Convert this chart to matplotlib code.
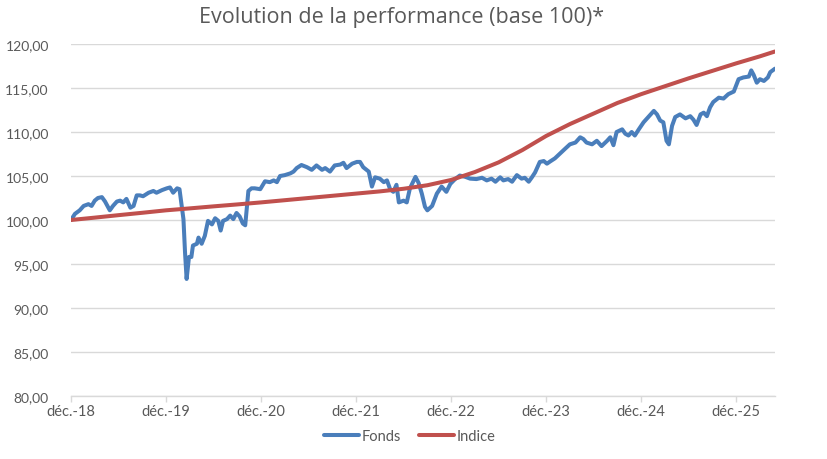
import matplotlib
matplotlib.use("Agg")
import matplotlib.pyplot as plt
from matplotlib.ticker import FixedLocator, FuncFormatter

plt.rcParams['font.family'] = ['Lato', 'DejaVu Sans']

# Months elapsed since déc. 2018, and the fund's value (base 100)
fonds_mois = [
    0.0, 0.5, 1.1, 1.6, 2.2, 2.6, 3.0, 3.4, 3.9, 4.3, 4.9, 5.3, 5.8, 6.2, 6.6,
    7.0, 7.5, 7.9, 8.3, 8.7, 9.1, 9.8, 10.4, 10.8, 11.5, 12.1, 12.5, 12.9, 13.4,
    13.7, 14.2, 14.4, 14.6, 14.9, 15.2, 15.4, 15.9, 16.1, 16.5, 16.9, 17.3, 17.8,
    18.2, 18.6, 18.9, 19.2, 19.7, 20.1, 20.5, 20.9, 21.3, 21.7, 22.0, 22.4, 22.8,
    23.2, 23.9, 24.5, 25.1, 25.6, 26.0, 26.4, 27.0, 27.7, 28.1, 28.5, 29.1, 29.8,
    30.4, 31.0, 31.7, 32.1, 32.7, 33.3, 34.0, 34.4, 34.8, 35.5, 36.1, 36.5, 36.9,
    37.6, 38.0, 38.4, 39.0, 39.5, 39.9, 40.3, 40.7, 41.1, 41.4, 42.0, 42.4, 42.8,
    43.5, 43.9, 44.3, 44.7, 45.0, 45.6, 46.2, 46.8, 47.4, 47.9, 48.5, 49.1, 49.8,
    50.4, 51.2, 51.9, 52.5, 53.1, 53.6, 54.2, 54.6, 55.2, 55.7, 56.3, 56.9, 57.3,
    57.8, 58.2, 58.6, 59.2, 59.7, 60.1, 60.5, 61.1, 61.8, 62.4, 63.0, 63.7, 64.3,
    64.7, 65.1, 65.8, 66.4, 67.0, 67.7, 68.1, 68.5, 68.9, 69.6, 70.0, 70.4, 70.8,
    71.2, 71.7, 72.3, 72.9, 73.6, 74.0, 74.4, 74.8, 75.2, 75.5, 75.9, 76.3, 76.9,
    77.6, 78.2, 78.6, 79.0, 79.5, 79.9, 80.3, 80.7, 81.1, 81.8, 82.4, 83.0, 83.7,
    84.3, 84.9, 85.6, 85.9, 86.2, 86.6, 87.0, 87.5, 88.0, 88.3, 88.9,
]
fonds = [
    100.0, 100.7, 101.1, 101.6, 101.8, 101.6, 102.2, 102.5, 102.6, 102.1, 101.1,
    101.6, 102.1, 102.2, 102.0, 102.4, 101.4, 101.6, 102.8, 102.8, 102.7, 103.1,
    103.3, 103.1, 103.4, 103.6, 103.7, 103.1, 103.6, 103.5, 100.1, 96.3, 93.3,
    95.8, 95.8, 97.1, 97.3, 98.0, 97.3, 98.2, 99.9, 99.5, 100.2, 99.9, 98.8, 99.9,
    100.1, 100.5, 100.1, 100.8, 100.4, 99.6, 99.4, 103.3, 103.6, 103.6, 103.5,
    104.4, 104.3, 104.5, 104.3, 105.0, 105.1, 105.3, 105.5, 105.9, 106.25, 106.0,
    105.7, 106.2, 105.7, 105.9, 105.5, 106.2, 106.3, 106.5, 105.9, 106.4, 106.6,
    106.6, 106.0, 105.5, 103.8, 104.85, 104.7, 104.3, 104.5, 103.5, 103.2, 104.0,
    102.0, 102.2, 102.0, 103.6, 104.9, 104.2, 103.0, 101.5, 101.1, 101.6, 103.0,
    103.8, 103.2, 104.1, 104.65, 105.05, 104.9, 104.7, 104.65, 104.8, 104.5,
    104.7, 104.35, 104.85, 104.5, 104.65, 104.35, 105.1, 104.7, 104.8, 104.35,
    104.85, 105.4, 106.6, 106.7, 106.4, 106.65, 107.0, 107.6, 108.1, 108.6, 108.8,
    109.4, 109.2, 108.8, 108.6, 109.0, 108.4, 109.0, 109.4, 108.5, 110.0, 110.3,
    109.8, 109.6, 110.0, 109.6, 110.3, 111.1, 111.7, 112.4, 112.0, 111.3, 111.1,
    109.0, 108.6, 110.7, 111.7, 112.0, 111.55, 111.8, 111.4, 110.8, 112.0, 112.2,
    111.8, 112.8, 113.4, 113.9, 113.8, 114.3, 114.6, 116.0, 116.2, 116.3, 117.0,
    116.5, 115.6, 116.0, 115.8, 116.2, 116.8, 117.2,
]

# Benchmark index, quarterly
indice_mois = [0, 3, 6, 9, 12, 15, 18, 21, 24, 27, 30, 33, 36, 39, 42, 45, 48,
               51, 54, 57, 60, 63, 66, 69, 72, 75, 78, 81, 84, 87, 88.9]
indice = [100.0, 100.27, 100.55, 100.82, 101.1, 101.32, 101.55, 101.77, 102.0,
          102.25, 102.5, 102.75, 103.0, 103.25, 103.55, 103.95, 104.55, 105.45,
          106.55, 107.95, 109.55, 110.9, 112.1, 113.3, 114.3, 115.2, 116.1,
          116.95, 117.8, 118.6, 119.15]

x_ticks = [0, 12, 24, 36, 48, 60, 72, 84]
x_labels = ["déc.-18", "déc.-19", "déc.-20", "déc.-21", "déc.-22", "déc.-23",
            "déc.-24", "déc.-25"]
y_ticks = [80, 85, 90, 95, 100, 105, 110, 115, 120]

BLUE = "#4A7EBB"
RED = "#C0504D"
GRID = "#D9D9D9"
TEXT = "#595959"

fig = plt.figure(figsize=(8.28, 4.60), dpi=100)
ax = fig.add_axes([71 / 828, 1 - 397 / 460, (775 - 71) / 828, (397 - 45) / 460])

ax.plot(fonds_mois, fonds, color=BLUE, lw=2.9, solid_joinstyle="round",
        solid_capstyle="round", label="Fonds", zorder=3)
ax.plot(indice_mois, indice, color=RED, lw=2.9, solid_joinstyle="round",
        solid_capstyle="round", label="Indice", zorder=4)

ax.set_xlim(0, 88.9)
ax.set_ylim(80, 120)
ax.xaxis.set_major_locator(FixedLocator(x_ticks))
ax.set_xticklabels(x_labels)
ax.yaxis.set_major_locator(FixedLocator(y_ticks))
ax.yaxis.set_major_formatter(FuncFormatter(lambda v, p: f"{v:.2f}".replace(".", ",")))

ax.grid(axis="y", color=GRID, lw=1.0)
ax.set_axisbelow(True)
for s in ("left", "right", "top"):
    ax.spines[s].set_visible(False)
ax.spines["bottom"].set_color(GRID)
ax.spines["bottom"].set_linewidth(1.0)
ax.tick_params(axis="x", colors=GRID, length=4, width=1.0, labelcolor=TEXT,
               labelsize=10.5, pad=2)
ax.tick_params(axis="y", length=0, labelcolor=TEXT, labelsize=10, pad=16)

fig.text(402 / 828, 1 - 17 / 460, "Evolution de la performance (base 100)*",
         ha="center", va="center", fontsize=15.5, color=TEXT,
         family=["Open Sans", "DejaVu Sans"])

leg = fig.legend(loc="center", bbox_to_anchor=(410 / 828, 1 - 437 / 460),
                 ncol=2, frameon=False, fontsize=10.5, handlelength=2.4,
                 handletextpad=0.2, columnspacing=1.2)
for t in leg.get_texts():
    t.set_color(TEXT)

fig.savefig("out.png", dpi=100, facecolor="white")
